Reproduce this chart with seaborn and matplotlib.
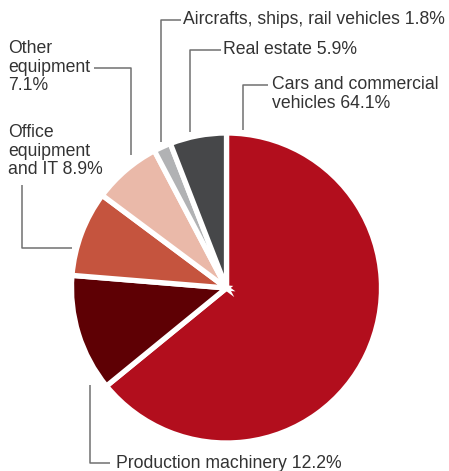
import matplotlib
matplotlib.use("Agg")
import matplotlib.pyplot as plt
import seaborn as sns

sns.set_theme(style="white")
plt.rcParams['font.family'] = ['Liberation Sans Narrow', 'Liberation Sans', 'DejaVu Sans']

categories = ["Cars and commercial vehicles", "Production machinery", "Office equipment and IT",
              "Other equipment", "Aircrafts, ships, rail vehicles", "Real estate"]
shares = [64.1, 12.2, 8.9, 7.1, 1.8, 5.9]
colors = ["#B20E1D", "#5E0004", "#C5543E", "#EAB9A9", "#B1B2B4", "#464749"]
label_texts = ["Cars and commercial\nvehicles 64.1%", "Production machinery 12.2%",
               "Office\nequipment\nand IT 8.9%", "Other\nequipment\n7.1%",
               "Aircrafts, ships, rail vehicles 1.8%", "Real estate 5.9%"]

W, H = 449, 471
fig = plt.figure(figsize=(W / 100, H / 100), dpi=100)
ax = fig.add_axes([0, 0, 1, 1])

def Y(y):
    return H - y

cx, cy, r = 226.5, 288, 155
ax.pie(shares, colors=colors, startangle=90, counterclock=False,
       center=(cx, Y(cy)), radius=r, frame=True,
       wedgeprops=dict(edgecolor="white", linewidth=3.8))
ax.set_xlim(0, W)
ax.set_ylim(0, H)
ax.axis("off")

lc = "#707070"
tc = "#333333"
fs = 12.7
ls = 1.12

def leader(pts):
    xs = [p[0] for p in pts]
    ys = [Y(p[1]) for p in pts]
    ax.plot(xs, ys, color=lc, lw=1.1, solid_capstyle="butt")

# Cars
leader([(243, 130), (243, 85), (268, 85)])
ax.text(272, Y(94), label_texts[0], ha="left", va="center", fontsize=fs, color=tc, linespacing=ls)
# Real estate
leader([(190, 132), (190, 50), (221, 50)])
ax.text(223, Y(50), label_texts[5], ha="left", va="center", fontsize=fs, color=tc)
# Aircrafts
leader([(161, 142), (161, 20), (181, 20)])
ax.text(183, Y(20), label_texts[4], ha="left", va="center", fontsize=fs, color=tc)
# Other equipment
leader([(131, 155), (131, 68), (94, 68)])
ax.text(8, Y(67), label_texts[3], ha="left", va="center", fontsize=fs, color=tc, linespacing=ls)
# Office
leader([(22, 185), (22, 248), (72, 248)])
ax.text(8, Y(151), label_texts[2], ha="left", va="center", fontsize=fs, color=tc, linespacing=ls)
# Production
leader([(90, 385), (90, 463), (110, 463)])
ax.text(116, Y(463), label_texts[1], ha="left", va="center", fontsize=fs, color=tc)

fig.savefig("out.png", dpi=100)
